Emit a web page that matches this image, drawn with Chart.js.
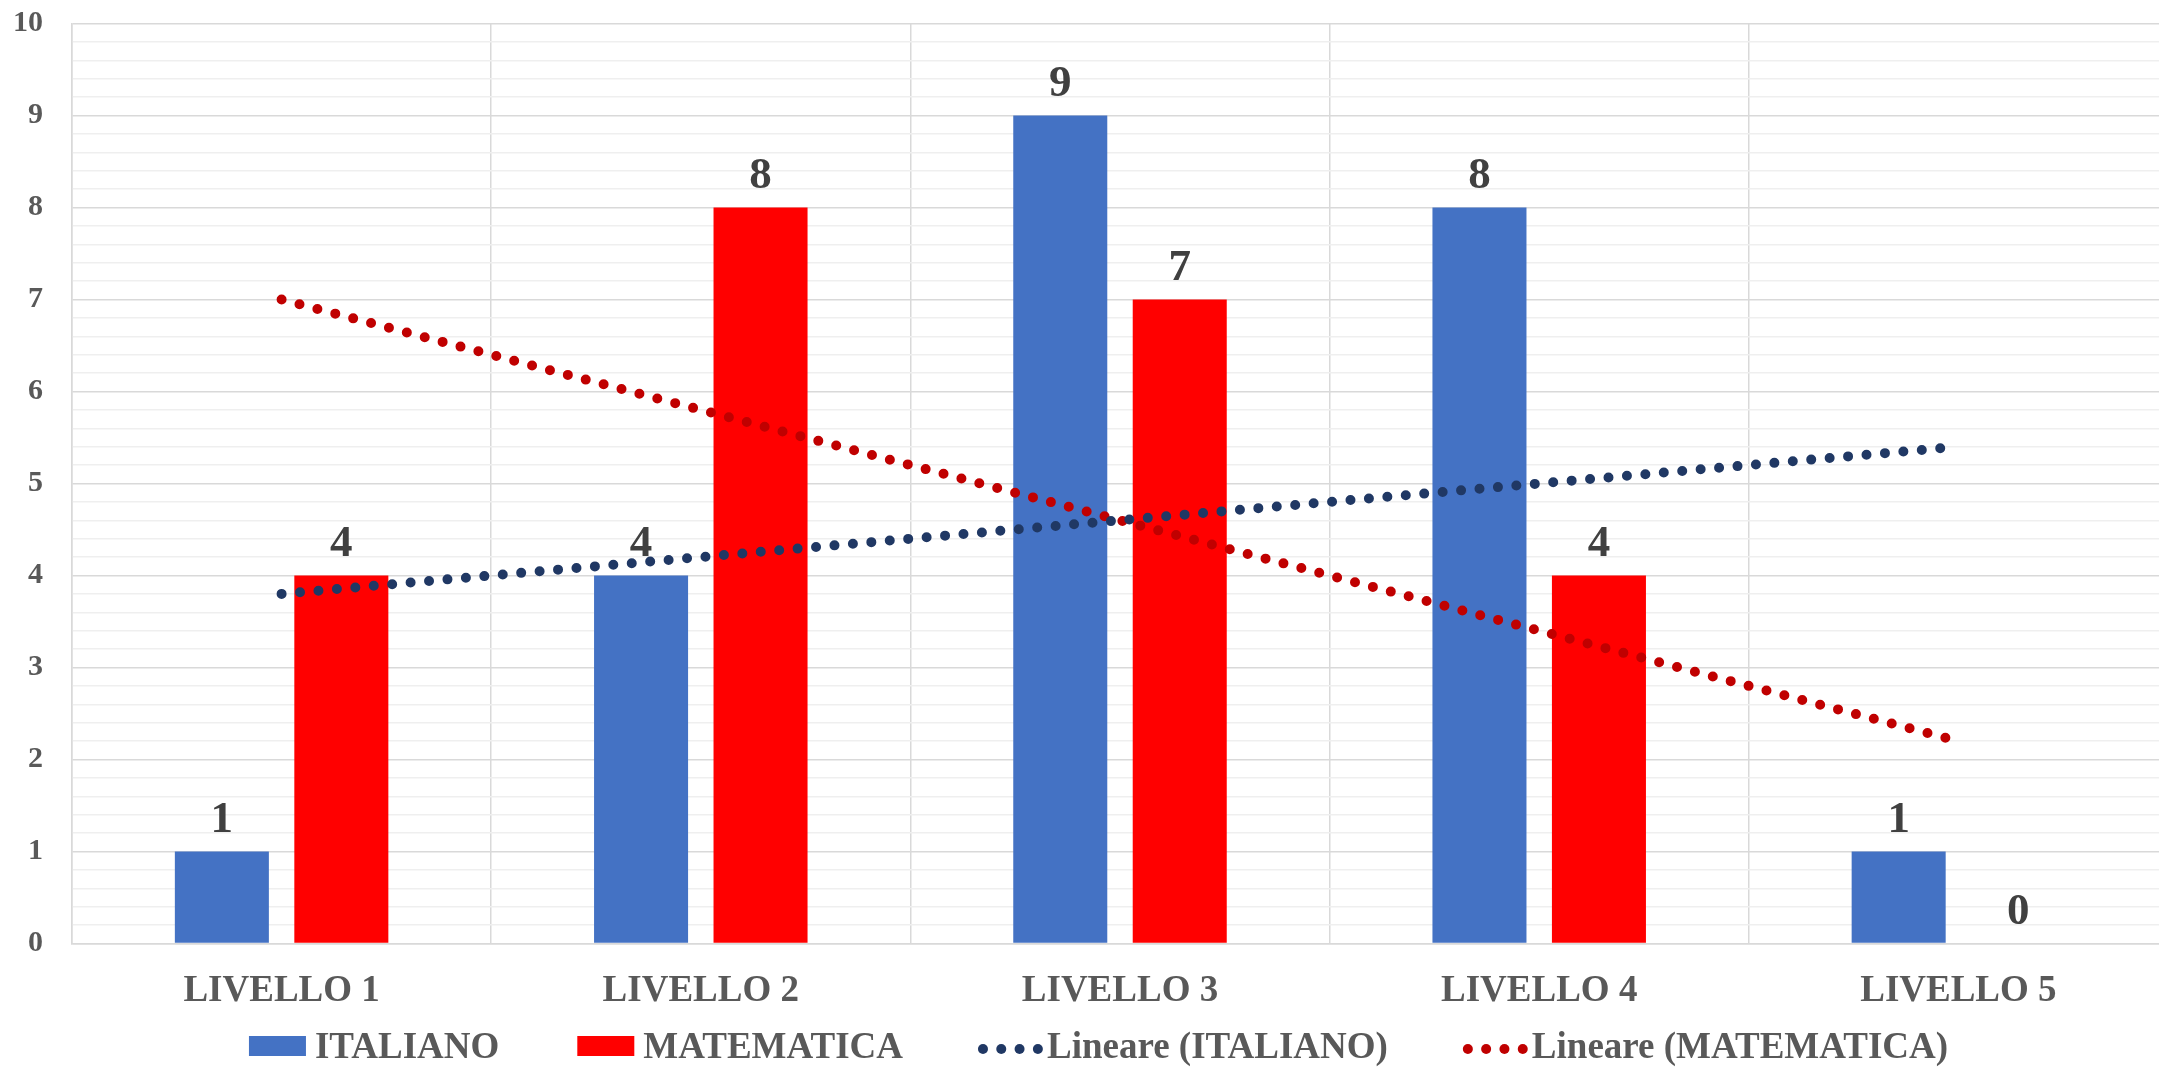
<!DOCTYPE html>
<html>
<head>
<meta charset="utf-8">
<script src="https://cdn.jsdelivr.net/npm/chart.js@4/dist/chart.umd.min.js"></script>
<style>
html,body{margin:0;padding:0;overflow:hidden;background:#ffffff;width:2159px;height:1067px}
#wrap{position:relative;width:2168px;height:1067px}
canvas{display:block}
</style>
</head>
<body>
<div id="wrap"><canvas id="c" width="2168" height="1067"></canvas></div>
<script>
// ---- data ----
const categories = ['LIVELLO 1', 'LIVELLO 2', 'LIVELLO 3', 'LIVELLO 4', 'LIVELLO 5'];
const italiano = [1, 4, 9, 8, 1];
const matematica = [4, 8, 7, 4, 0];
const trendItaliano = [3.8, 4.2, 4.6, 5.0, 5.4];
const trendMatematica = [7.0, 5.8, 4.6, 3.4, 2.2];
const yTickLabels = ['0', '1', '2', '3', '4', '5', '6', '7', '8', '9', '10'];
const seriesNames = ['ITALIANO', 'MATEMATICA', 'Lineare (ITALIANO)', 'Lineare (MATEMATICA)'];

const FONT = '"Liberation Serif", "Times New Roman", serif';
const isInt = v => Math.abs(v - Math.round(v)) < 1e-6;

const valueLabels = {
  id: 'valueLabels',
  afterDatasetsDraw(chart) {
    const ctx = chart.ctx;
    ctx.save();
    ctx.font = 'bold 45px ' + FONT;
    ctx.fillStyle = '#404040';
    ctx.textAlign = 'center';
    ctx.textBaseline = 'alphabetic';
    chart.data.datasets.forEach((ds, i) => {
      if (ds.type !== 'bar') return;
      const meta = chart.getDatasetMeta(i);
      meta.data.forEach((el, j) => {
        ctx.fillText(String(ds.data[j]), el.x, el.y - 20);
      });
    });
    ctx.restore();
  }
};

const customLegend = {
  id: 'customLegend',
  afterDraw(chart) {
    const ctx = chart.ctx;
    ctx.save();
    ctx.font = 'bold 37px ' + FONT;
    const items = chart.data.datasets.map(ds => ({
      text: ds.label, type: ds.type,
      color: ds.type === 'bar' ? ds.backgroundColor : ds.borderColor
    }));
    const markerW = 62, markerGap = 5, itemGap = 77;
    let total = 0;
    items.forEach((it, i) => {
      it.w = ctx.measureText(it.text).width;
      total += markerW + markerGap + it.w + (i < items.length - 1 ? itemGap : 0);
    });
    let x = 1098 - total / 2;
    const cy = 1046;
    items.forEach(it => {
      if (it.type === 'bar') {
        ctx.fillStyle = it.color;
        ctx.fillRect(x + 1, cy - 10, 57, 20);
      } else {
        ctx.fillStyle = it.color;
        for (let k = 0; k < 4; k++) {
          ctx.beginPath();
          ctx.arc(x + 3 + k * 18.3, cy + 3, 5, 0, Math.PI * 2);
          ctx.fill();
        }
      }
      ctx.fillStyle = '#595959';
      ctx.textAlign = 'left';
      ctx.textBaseline = 'alphabetic';
      ctx.fillText(it.text, x + markerW + markerGap, cy + 12);
      x += markerW + markerGap + it.w + itemGap;
    });
    ctx.restore();
  }
};

new Chart(document.getElementById('c'), {
  data: {
    labels: categories,
    datasets: [
      { type: 'bar', label: seriesNames[0], data: italiano, backgroundColor: '#4472C4',
        categoryPercentage: 0.57, barPercentage: 0.787, order: 2 },
      { type: 'bar', label: seriesNames[1], data: matematica, backgroundColor: '#FF0000',
        categoryPercentage: 0.57, barPercentage: 0.787, order: 2 },
      { type: 'line', label: seriesNames[2], data: trendItaliano, borderColor: '#203864',
        borderWidth: 10, borderDash: [0, 18.5], borderCapStyle: 'round', pointRadius: 0,
        fill: false, tension: 0, order: 1 },
      { type: 'line', label: seriesNames[3], data: trendMatematica, borderColor: '#C00000',
        borderWidth: 10, borderDash: [0, 18.5], borderCapStyle: 'round', pointRadius: 0,
        fill: false, tension: 0, order: 1 }
    ]
  },
  options: {
    responsive: false,
    animation: false,
    devicePixelRatio: 1,
    layout: { padding: { top: 23.5, left: 0, right: 0, bottom: 0 } },
    plugins: { legend: { display: false }, tooltip: { enabled: false } },
    scales: {
      x: {
        offset: true,
        grid: { color: '#D9D9D9', lineWidth: 1.5, offset: true, drawTicks: false },
        border: { color: '#D9D9D9', width: 1.5 },
        ticks: { color: '#595959', font: { family: FONT, size: 37, weight: 'bold' }, padding: 26, maxRotation: 0 },
        afterFit(s) { s.height = 1067 - 943.5; }
      },
      y: {
        min: 0, max: 10,
        grid: {
          drawTicks: false, lineWidth: 1.5,
          color: c => (c.tick && isInt(c.tick.value)) ? '#D9D9D9' : '#EFEFEF'
        },
        border: { color: '#D9D9D9', width: 1.5 },
        ticks: {
          stepSize: 0.2, autoSkip: false, padding: 29, color: '#595959',
          font: { family: FONT, size: 30, weight: 'bold' },
          callback: v => isInt(v) ? yTickLabels[Math.round(v)] : ''
        },
        afterFit(s) { s.width = 72; s.paddingTop = 0; s.paddingBottom = 0; }
      }
    }
  },
  plugins: [valueLabels, customLegend]
});
</script>
</body>
</html>
